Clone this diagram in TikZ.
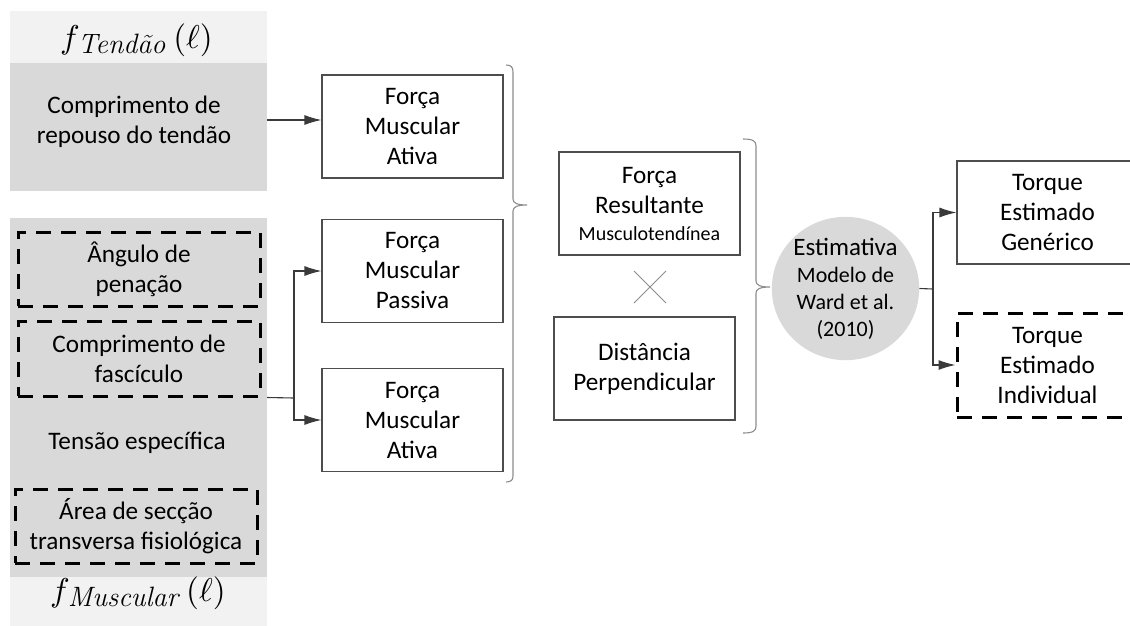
\documentclass[tikz,border=0pt]{standalone}
\usepackage{fontspec}
\setmainfont{Carlito}
\newfontfamily\lmr{Latin Modern Roman}
\usetikzlibrary{arrows.meta,shapes.geometric}
\newcommand\fsA{\fontsize{25.2}{30}\selectfont}
\newcommand\fsB{\fontsize{20}{27}\selectfont}
\newcommand\fsC{\fontsize{22}{27}\selectfont}
\newcommand\fsub[1]{{\normalsize\scalebox{3.3}{$f$}\kern-2pt\raisebox{-5pt}{\fontsize{28}{30}\lmr\itshape #1}\hspace{8pt}\scalebox{3.3}{$(\ell)$}}}
\definecolor{dgray}{HTML}{D9D9D9}
\definecolor{lgray}{HTML}{F2F2F2}
\definecolor{boxc}{HTML}{4D4D4D}
\definecolor{linec}{HTML}{3A3A3A}
\definecolor{crossc}{HTML}{8C8C8C}
\begin{document}
\begin{tikzpicture}[x=1pt,y=-1pt,
  box/.style={draw=boxc, line width=1.1pt, minimum width=181pt, minimum height=103pt, align=center, inner sep=0pt, font=\fsA},
  dbox/.style={draw=black, line width=3pt, dash pattern=on 15pt off 10pt, minimum width=242pt, minimum height=74pt, align=center, inner sep=0pt, font=\fsA},
  region/.style={fill=#1, inner sep=0pt, minimum width=257pt},
  txt/.style={align=center, inner sep=0pt, font=\fsA},
  conn/.style={draw=linec, line width=1.1pt},
  arr/.style={conn, -{Latex[length=17pt,width=10pt]}},
  bracec/.style={draw=crossc, line width=1.1pt},
]
\useasboundingbox (0,0) rectangle (1130,625);
\clip (0,0) rectangle (1130,625);

% left regions
\node[region=lgray, minimum height=52pt] (thead) at (138.5,37) {};
\node[inner sep=0pt, anchor=base west] (theadtxt) at (60,48) {\fsub{Tendão}};
\node[region=dgray, minimum height=128pt] (tendon) at (138.5,127) {};
\node[txt] (tendontxt) at (134,122) {Comprimento de\\repouso do tendão};

\node[region=dgray, minimum height=359pt] (muscle) at (138.5,397.5) {};
\node[region=lgray, minimum height=50pt] (mfoot) at (138.5,602) {};
\node[inner sep=0pt, anchor=base west] (mfoottxt) at (50,601) {\fsub{Muscular}};

\node[dbox] (ang) at (139,269) {Ângulo de\\penação};
\node[dbox, minimum height=75pt] (fasc) at (139,358.5) {Comprimento de\\fascículo};
\node[txt] (tens) at (137,443) {Tensão específica};
\node[dbox] (area) at (136,526) {Área de secção\\transversa fisiológica};

% muscle force boxes
\node[box] (ativa1) at (412.5,126.5) {Força\\Muscular\\Ativa};
\node[box] (passiva) at (412.5,271) {Força\\Muscular\\Passiva};
\node[box] (ativa2) at (412.5,420) {Força\\Muscular\\Ativa};

% middle boxes
\node[box] (fres) at (649.5,203.5) {Força\\Resultante\\[-3pt]{\fsB Musculotendínea}};
\node[box] (dist) at (644.5,368.5) {Distância\\Perpendicular};
\draw[draw=crossc, line width=1pt] (634,271) -- (666,303) (634,303) -- (666,271);

% estimate ellipse
\node[ellipse, fill=dgray, minimum width=147pt, minimum height=137pt, inner sep=0pt, align=center, font=\fsC] (est) at (845.5,288.5) {{\fontsize{25}{27}\selectfont Estimativa}\\Modelo de\\Ward et al.\\(2010)};

% torque boxes
\node[box] (gen) at (1047.5,212.5) {Torque\\Estimado\\Genérico};
\node[box, draw=black, line width=3pt, dash pattern=on 15pt off 10pt, minimum height=104pt] (indiv) at (1047.5,365) {Torque\\Estimado\\Individual};

% connectors
\draw[arr] (tendon.east |- 0,120) -- (ativa1.west |- 0,120);
\coordinate (j1) at (294,398);
\draw[conn] (muscle.east) -- (j1);
\draw[arr] (j1) |- (passiva.west);
\draw[arr] (j1) |- (ativa2.west);

\coordinate (j2) at (933,289);
\draw[conn] (est.east) -- (j2);
\draw[arr] (j2) |- (gen.west);
\draw[arr] (j2) |- (indiv.west);

% braces
\draw[bracec] (506,65) .. controls (511,65) and (513,67) .. (513,72) -- (513,199)
  .. controls (513,203) and (517,205) .. (527,205)
  .. controls (517,205) and (513,207) .. (513,211) -- (513,476)
  .. controls (513,480) and (511,482) .. (506,482);
\draw[bracec] (743,139) .. controls (753,139) and (756,141) .. (756,146) -- (756,281)
  .. controls (756,285) and (760,287) .. (770,287)
  .. controls (760,287) and (756,289) .. (756,293) -- (756,426)
  .. controls (756,431) and (753,433) .. (743,433);
\end{tikzpicture}
\end{document}
